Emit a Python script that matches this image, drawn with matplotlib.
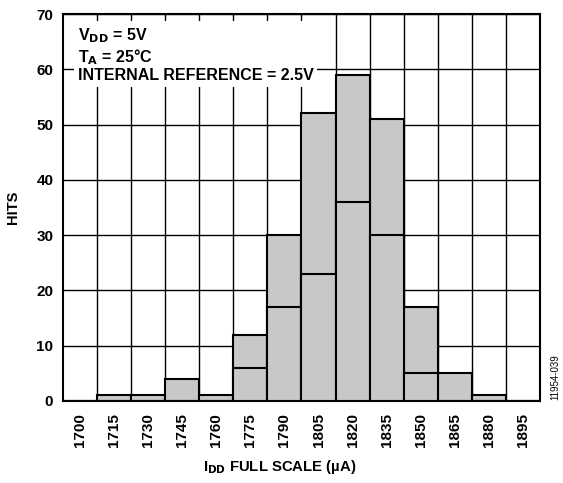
import matplotlib
matplotlib.use("Agg")
import matplotlib.pyplot as plt
import numpy as np

plt.rcParams['font.family'] = ['Liberation Sans', 'DejaVu Sans']

# bin centres (uA) and hit counts for the two overlaid runs
bins = [1700, 1715, 1730, 1745, 1760, 1775, 1790, 1805, 1820, 1835, 1850, 1865, 1880, 1895]
hits_total = [0, 1, 1, 4, 1, 12, 30, 52, 59, 51, 17, 5, 1, 0]
hits_inner = [0, 0, 0, 0, 0, 6, 17, 23, 36, 30, 5, 0, 0, 0]

fig = plt.figure(figsize=(5.63, 4.83), dpi=100)
ax = fig.add_axes([0.112, 0.170, 0.847, 0.801])

x = np.arange(len(bins))
gray = '#c8c8c8'
ax.bar(x, hits_total, width=1.0, color=gray, edgecolor='black', linewidth=1.5, zorder=3)
ax.bar(x, hits_inner, width=1.0, color=gray, edgecolor='black', linewidth=1.5, zorder=3)

ax.set_xlim(-0.5, len(bins) - 0.5)
ax.set_ylim(0, 70)
ax.set_yticks(range(0, 71, 10))
ax.set_xticks(x)
ax.set_xticklabels([str(b) for b in bins], rotation=90, fontsize=11, fontweight='bold')
ax.set_xticks(np.arange(0.5, len(bins) - 0.5), minor=True)
for lbl in ax.get_yticklabels():
    lbl.set_fontsize(11)
    lbl.set_fontweight('bold')

ax.tick_params(axis='both', which='both', length=0)
ax.tick_params(axis='x', pad=9)
ax.tick_params(axis='y', pad=7)

ax.grid(True, axis='y', which='major', color='black', linewidth=1.0, zorder=1)
ax.grid(True, axis='x', which='minor', color='black', linewidth=1.0, zorder=1)
ax.set_axisbelow(True)

for sp in ax.spines.values():
    sp.set_linewidth(1.5)
    sp.set_color('black')

ax.set_ylabel('HITS', fontsize=10.5, fontweight='bold')
ax.yaxis.set_label_coords(-0.09, 0.5)
ax.set_xlabel(r'I$_\mathbf{DD}$ FULL SCALE (µA)', fontsize=10.7, fontweight='bold')
ax.xaxis.set_label_coords(0.455, -0.148)

ax.text(0.031, 0.969,
        'V$_\\mathbf{DD}$ = 5V\nT$_\\mathbf{A}$ = 25°C\nINTERNAL REFERENCE = 2.5V',
        transform=ax.transAxes, ha='left', va='top', fontsize=11.5, fontweight='bold',
        linespacing=1.15, zorder=4,
        bbox=dict(facecolor='white', edgecolor='none', pad=2.5))

fig.text(0.986, 0.219, '11954-039', rotation=90, fontsize=7, ha='center', va='center')

fig.savefig('out.png', dpi=100)
